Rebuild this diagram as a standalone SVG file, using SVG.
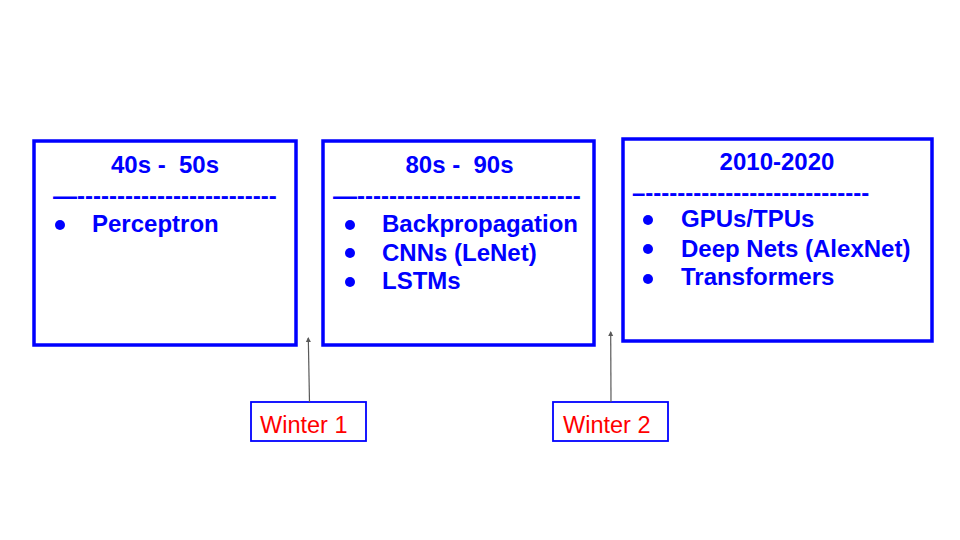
<svg xmlns="http://www.w3.org/2000/svg" width="960" height="540" viewBox="0 0 960 540">
<defs>
<marker id="ah" markerWidth="8" markerHeight="8" refX="4" refY="4" orient="auto" markerUnits="userSpaceOnUse"><path d="M0,1.5 L5,4 L0,6.5 z" fill="#595959"/></marker>
<style>
.era{fill:#ffffff;stroke:#0000ff;stroke-width:3.5}
.win{fill:#ffffff;stroke:#0000ff;stroke-width:1.8}
.t{font-family:"Liberation Sans",Arial,sans-serif;font-weight:bold;font-size:24px;fill:#0000ff;white-space:pre}
.h{text-anchor:middle}
.w{font-family:"Liberation Sans",Arial,sans-serif;font-size:23.5px;fill:#ff0000}
.b{fill:#0000ff}
.c{stroke:#595959;stroke-width:1.2;fill:none}
</style>
</defs>
<rect width="960" height="540" fill="#ffffff"/>
<g id="era1">
<rect class="era" x="34" y="141" width="262" height="204"/>
<text class="t h" x="165" y="173">40s -  50s</text>
<text class="t" x="53" y="204">—-------------------------</text>
<circle class="b" cx="60" cy="225" r="5"/>
<text class="t" x="92" y="232">Perceptron</text>
</g>
<g id="era2">
<rect class="era" x="323" y="141" width="271" height="204"/>
<text class="t h" x="459.5" y="173">80s -  90s</text>
<text class="t" x="333" y="204">—----------------------------</text>
<circle class="b" cx="350" cy="225" r="5"/>
<circle class="b" cx="350" cy="253" r="5"/>
<circle class="b" cx="350" cy="282" r="5"/>
<text class="t" x="382" y="232">Backpropagation</text>
<text class="t" x="382" y="260.5">CNNs (LeNet)</text>
<text class="t" x="382" y="289">LSTMs</text>
</g>
<g id="era3">
<rect class="era" x="623" y="139" width="309" height="202"/>
<text class="t h" x="777" y="170">2010-2020</text>
<text class="t" x="632" y="201">–----------------------------</text>
<circle class="b" cx="648" cy="220" r="5"/>
<circle class="b" cx="648" cy="249" r="5"/>
<circle class="b" cx="648" cy="279" r="5"/>
<text class="t" x="681" y="227">GPUs/TPUs</text>
<text class="t" x="681" y="257">Deep Nets (AlexNet)</text>
<text class="t" x="681" y="285">Transformers</text>
</g>
<g id="winter1">
<rect class="win" x="251" y="402" width="115" height="39"/>
<text class="w" x="260" y="433">Winter 1</text>
</g>
<g id="winter2">
<rect class="win" x="553" y="402" width="115" height="39"/>
<text class="w" x="563" y="433">Winter 2</text>
</g>
<g id="connectors">
<line class="c" x1="309.5" y1="402" x2="308.3" y2="338" marker-end="url(#ah)"/>
<line class="c" x1="611" y1="402" x2="610.7" y2="332" marker-end="url(#ah)"/>
</g>
</svg>
